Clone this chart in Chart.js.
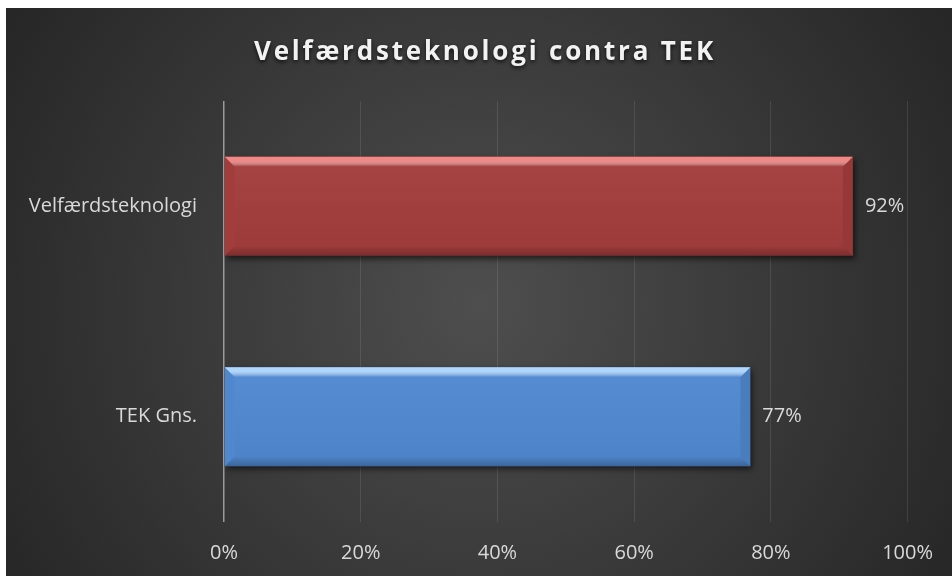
<!DOCTYPE html>
<html>
<head>
<meta charset="utf-8">
<script src="https://cdn.jsdelivr.net/npm/chart.js@4/dist/chart.umd.min.js"></script>
<style>
  html, body { margin: 0; padding: 0; background: #fff; }
  #wrap { position: absolute; left: 6px; top: 8px; width: 946px; height: 568px; }
</style>
</head>
<body>
<div id="wrap"><canvas id="chart" width="946" height="568"></canvas></div>
<script>
// data
const categories = ["Velfærdsteknologi", "TEK Gns."]
const values = [92, 77]
const barColors = ["#a23d3c", "#5088cf"]
const bevelTop = ["#f08886", "#b0d6fc"]
const xTickStep = 20
const chartTitle = "Velfærdsteknologi contra TEK"

const labelFont = '20px "Open Sans"'
const labelColor = "#d9d9d9"

// dark radial background + spaced title
const backdrop = {
  id: "backdrop",
  beforeDraw: (chart) => {
    var ctx = chart.ctx
    var w = chart.width, h = chart.height
    ctx.save()
    var g = ctx.createRadialGradient(w * 0.5, h * 0.52, 0, w * 0.5, h * 0.52, w * 0.62)
    g.addColorStop(0, "#4e4e4e")
    g.addColorStop(1, "#242424")
    ctx.fillStyle = g
    ctx.fillRect(0, 0, w, h)

    ctx.font = 'bold 26px "Open Sans"'
    ctx.letterSpacing = "2.8px"
    ctx.textAlign = "center"
    ctx.textBaseline = "middle"
    ctx.shadowColor = "rgba(0,0,0,0.75)"
    ctx.shadowBlur = 4
    ctx.shadowOffsetY = 2
    ctx.fillStyle = "#f2f2f2"
    ctx.fillText(chartTitle, w / 2 + 6, 45)
    ctx.restore()
  },
}

// bar shadow, bevel and value labels
const barFx = {
  id: "barFx",
  beforeDatasetsDraw: (chart) => {
    var ctx = chart.ctx
    ctx.save()
    ctx.shadowColor = "rgba(0,0,0,0.6)"
    ctx.shadowBlur = 6
    ctx.shadowOffsetX = 2
    ctx.shadowOffsetY = 3
  },
  afterDatasetsDraw: (chart) => {
    var ctx = chart.ctx
    ctx.restore()
    var meta = chart.getDatasetMeta(0)
    meta.data.forEach((bar, i) => {
      var left = bar.base, right = bar.x
      var top = bar.y - bar.height / 2, bottom = bar.y + bar.height / 2
      var b = 10
      ctx.save()
      // top bevel
      var gt = ctx.createLinearGradient(0, top, 0, top + b)
      gt.addColorStop(0, bevelTop[i])
      gt.addColorStop(0.4, bevelTop[i])
      gt.addColorStop(1, "rgba(255,255,255,0)")
      ctx.fillStyle = gt
      ctx.beginPath()
      ctx.moveTo(left, top)
      ctx.lineTo(right, top)
      ctx.lineTo(right - b, top + b)
      ctx.lineTo(left + b, top + b)
      ctx.closePath()
      ctx.fill()
      // body shading
      var gb = ctx.createLinearGradient(0, top + b, 0, bottom - b)
      gb.addColorStop(0, "rgba(255,255,255,0.03)")
      gb.addColorStop(1, "rgba(0,0,0,0.03)")
      ctx.fillStyle = gb
      ctx.fillRect(left + b, top + b, right - left - 2 * b, bottom - top - 2 * b)
      // bottom bevel
      var gd = ctx.createLinearGradient(0, bottom - b, 0, bottom)
      gd.addColorStop(0, "rgba(0,0,0,0.03)")
      gd.addColorStop(1, "rgba(0,0,0,0.25)")
      ctx.fillStyle = gd
      ctx.beginPath()
      ctx.moveTo(left, bottom)
      ctx.lineTo(right, bottom)
      ctx.lineTo(right - b, bottom - b)
      ctx.lineTo(left + b, bottom - b)
      ctx.closePath()
      ctx.fill()
      // right bevel
      ctx.fillStyle = "rgba(0,0,0,0.08)"
      ctx.beginPath()
      ctx.moveTo(right, top)
      ctx.lineTo(right, bottom)
      ctx.lineTo(right - b, bottom - b)
      ctx.lineTo(right - b, top + b)
      ctx.closePath()
      ctx.fill()

      // value label
      ctx.font = labelFont
      ctx.fillStyle = labelColor
      ctx.textAlign = "left"
      ctx.textBaseline = "middle"
      ctx.fillText(values[i] + "%", right + 12, bar.y)
      ctx.restore()
    })
  },
}

const makeChart = () => {
  new Chart(document.getElementById("chart"), {
    type: "bar",
    data: {
      labels: categories,
      datasets: [
        {
          data: values,
          backgroundColor: barColors,
          borderWidth: 0,
          categoryPercentage: 1,
          barPercentage: 0.47,
        },
      ],
    },
    options: {
      indexAxis: "y",
      responsive: false,
      animation: false,
      events: [],
      layout: { padding: { top: 93, right: 39, left: 0, bottom: 0 } },
      plugins: { legend: { display: false }, title: { display: false }, tooltip: { enabled: false } },
      scales: {
        x: {
          min: 0,
          max: 100,
          afterFit: (scale) => { scale.height = 54 },
          ticks: {
            stepSize: xTickStep,
            padding: 19,
            color: labelColor,
            font: { family: "Open Sans", size: 20 },
            callback: (v) => v + "%",
          },
          grid: {
            drawTicks: false,
            color: (c) => (c.index === 0 ? "#9a9a9a" : "rgba(255,255,255,0.1)"),
            lineWidth: (c) => (c.index === 0 ? 1.5 : 1),
          },
          border: { display: false },
        },
        y: {
          afterFit: (scale) => { scale.width = 218 },
          ticks: {
            padding: 27,
            color: labelColor,
            font: { family: "Open Sans", size: 20 },
          },
          grid: { display: false, drawTicks: false },
          border: { display: false },
        },
      },
    },
    plugins: [backdrop, barFx],
  })
}

document.fonts.load('20px "Open Sans"').then(() => document.fonts.load('bold 26px "Open Sans"')).then(makeChart, makeChart)
</script>
</body>
</html>
